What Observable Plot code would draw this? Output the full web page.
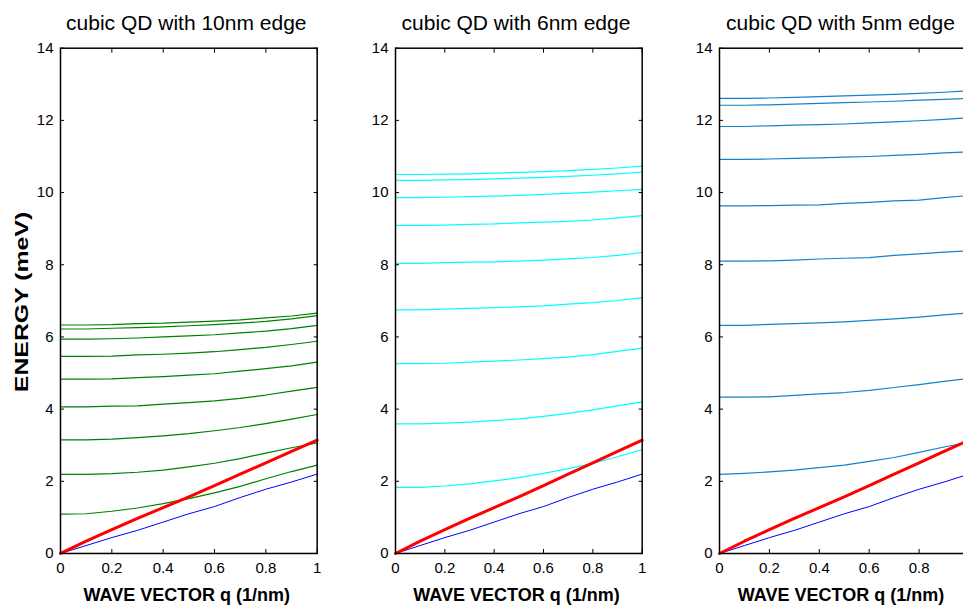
<!DOCTYPE html>
<html><head><meta charset="utf-8">
<script src="https://cdn.jsdelivr.net/npm/d3@7"></script>
<script src="https://cdn.jsdelivr.net/npm/@observablehq/plot@0.6"></script>
<style>
html,body{margin:0;padding:0;overflow:hidden;background:#fff;}
#root{position:relative;width:963px;height:609px;overflow:hidden;font-family:"Liberation Sans",Arial,sans-serif;color:#000;}
.panel{position:absolute;top:0;width:400px;}
.panel svg{max-width:none !important;}
.title{position:absolute;font-size:21px;line-height:21px;white-space:nowrap;transform:translateX(-50%);top:12px;}
.xlabel{position:absolute;font-size:18px;font-weight:bold;line-height:18px;white-space:nowrap;transform:translateX(-50%);top:586px;}
.ylabel{position:absolute;font-size:18px;font-weight:bold;line-height:18px;white-space:nowrap;transform:translate(-50%,-50%) rotate(-90deg) scaleX(1.38);left:21.5px;top:302px;}
</style>
</head><body>
<div id="root"></div>
<script>
// ---- data ----
const q = [0, 0.1, 0.2, 0.3, 0.4, 0.5, 0.6, 0.7, 0.8, 0.9, 1];
const xTicks = [0, 0.2, 0.4, 0.6, 0.8, 1];
const yTicks = [0, 2, 4, 6, 8, 10, 12, 14];
const titles = ["cubic QD with 10nm edge", "cubic QD with 6nm edge", "cubic QD with 5nm edge"];
const xLabel = "WAVE VECTOR q (1/nm)";
const yLabel = "ENERGY (meV)";

// light line (red) and acoustic phonon (blue), same in every panel
const photon = [0, 0.34, 0.66, 0.97, 1.27, 1.57, 1.88, 2.2, 2.51, 2.83, 3.14];
const acoustic = [0, 0.22, 0.44, 0.64, 0.87, 1.1, 1.3, 1.55, 1.78, 1.98, 2.2];

// 10 nm edge (green)
const levels10 = [
  [1.09, 1.1, 1.17, 1.26, 1.38, 1.52, 1.68, 1.86, 2.07, 2.27, 2.45],
  [2.19, 2.19, 2.21, 2.25, 2.31, 2.4, 2.5, 2.63, 2.78, 2.93, 3.06],
  [3.15, 3.15, 3.17, 3.21, 3.26, 3.32, 3.4, 3.49, 3.6, 3.72, 3.85],
  [4.06, 4.06, 4.08, 4.09, 4.14, 4.18, 4.23, 4.3, 4.39, 4.5, 4.6],
  [4.83, 4.83, 4.84, 4.87, 4.9, 4.94, 4.98, 5.05, 5.12, 5.2, 5.3],
  [5.46, 5.46, 5.47, 5.5, 5.52, 5.55, 5.59, 5.65, 5.71, 5.79, 5.88],
  [5.94, 5.94, 5.95, 5.97, 6.0, 6.03, 6.06, 6.11, 6.16, 6.23, 6.32],
  [6.22, 6.22, 6.24, 6.26, 6.28, 6.31, 6.34, 6.38, 6.43, 6.5, 6.59],
  [6.33, 6.33, 6.34, 6.37, 6.38, 6.41, 6.44, 6.47, 6.53, 6.58, 6.66]
];
// 6 nm edge (cyan)
const levels6 = [
  [1.83, 1.83, 1.87, 1.93, 2.01, 2.1, 2.22, 2.35, 2.5, 2.68, 2.88],
  [3.59, 3.59, 3.61, 3.64, 3.68, 3.73, 3.8, 3.88, 3.98, 4.09, 4.2],
  [5.26, 5.26, 5.27, 5.3, 5.33, 5.36, 5.4, 5.44, 5.51, 5.6, 5.69],
  [6.75, 6.75, 6.77, 6.79, 6.81, 6.83, 6.86, 6.91, 6.95, 7.01, 7.09],
  [8.04, 8.04, 8.06, 8.07, 8.08, 8.1, 8.13, 8.16, 8.2, 8.26, 8.34],
  [9.09, 9.09, 9.1, 9.12, 9.13, 9.16, 9.18, 9.2, 9.24, 9.3, 9.36],
  [9.86, 9.86, 9.87, 9.89, 9.9, 9.92, 9.95, 9.98, 10.01, 10.05, 10.09],
  [10.34, 10.34, 10.35, 10.36, 10.38, 10.4, 10.42, 10.45, 10.48, 10.52, 10.57],
  [10.5, 10.5, 10.51, 10.52, 10.54, 10.56, 10.58, 10.61, 10.64, 10.68, 10.73]
];
// 5 nm edge (blue)
const levels5 = [
  [2.19, 2.22, 2.26, 2.31, 2.38, 2.45, 2.55, 2.66, 2.8, 2.95, 3.08],
  [4.33, 4.33, 4.34, 4.38, 4.42, 4.46, 4.52, 4.6, 4.68, 4.77, 4.85],
  [6.32, 6.32, 6.35, 6.37, 6.39, 6.42, 6.46, 6.5, 6.55, 6.61, 6.67],
  [8.1, 8.1, 8.11, 8.13, 8.16, 8.18, 8.2, 8.26, 8.3, 8.35, 8.39],
  [9.63, 9.63, 9.64, 9.65, 9.66, 9.7, 9.73, 9.77, 9.79, 9.86, 9.92],
  [10.92, 10.92, 10.93, 10.95, 10.96, 10.98, 11.0, 11.03, 11.06, 11.1, 11.13],
  [11.83, 11.83, 11.85, 11.87, 11.88, 11.9, 11.93, 11.96, 11.99, 12.03, 12.07],
  [12.42, 12.42, 12.43, 12.45, 12.47, 12.49, 12.51, 12.53, 12.56, 12.58, 12.61],
  [12.61, 12.61, 12.62, 12.64, 12.66, 12.68, 12.7, 12.72, 12.75, 12.78, 12.82]
];
const levelColors = ["#008000", "#00ffff", "#1680c8"];

// ---- layout ----
const frames = [
  {left: 60, width: 256.7, center: 186.3},
  {left: 395, width: 246.7, center: 516},
  {left: 719.3, width: 249.5, center: 840.5}
];
const allLevels = [levels10, levels6, levels5];
const mL = 55, mR = 20, mT = 47.7, mB = 56, H = 609;

const root = document.getElementById("root");
const toRows = (arr, band) => arr.map((E, j) => ({q: q[j], E, band}));

allLevels.forEach((levels, p) => {
  const f = frames[p];
  const rows = levels.flatMap((arr, i) => toRows(arr, i));
  const chart = Plot.plot({
    width: f.width + mL + mR,
    height: H,
    marginLeft: mL, marginRight: mR, marginTop: mT, marginBottom: mB,
    x: {domain: [0, 1]},
    y: {domain: [0, 14]},
    style: {fontFamily: '"Liberation Sans", Arial, sans-serif', fontSize: "15px", color: "#000", background: "transparent", overflow: "visible", maxWidth: "none"},
    marks: [
      Plot.line(rows, {x: "q", y: "E", z: "band", stroke: levelColors[p], strokeWidth: 1.2}),
      Plot.line(toRows(acoustic, 0), {x: "q", y: "E", stroke: "#0000ff", strokeWidth: 1}),
      Plot.line(toRows(photon, 0), {x: "q", y: "E", stroke: "#ff0000", strokeWidth: 3}),
      Plot.frame({stroke: "#000", strokeWidth: 1.5}),
      Plot.axisX({ticks: xTicks, tickSize: -4, tickPadding: 13, tickFormat: d => String(d), label: null, fontSize: 15}),
      Plot.axisX({anchor: "top", ticks: xTicks, tickSize: -4, fill: "none", label: null}),
      Plot.axisY({ticks: yTicks, tickSize: -4, tickPadding: 11, tickFormat: d => String(d), label: null, fontSize: 15}),
      Plot.axisY({anchor: "right", ticks: yTicks, tickSize: -4, fill: "none", label: null})
    ]
  });
  const wrap = document.createElement("div");
  wrap.className = "panel";
  wrap.style.left = (f.left - mL) + "px";
  wrap.appendChild(chart);
  root.appendChild(wrap);

  const t = document.createElement("div");
  t.className = "title"; t.style.left = f.center + "px"; t.textContent = titles[p];
  root.appendChild(t);
  const xl = document.createElement("div");
  xl.className = "xlabel"; xl.style.left = (f.center + 0.5) + "px"; xl.textContent = xLabel;
  root.appendChild(xl);
});
const yl = document.createElement("div");
yl.className = "ylabel"; yl.textContent = yLabel;
root.appendChild(yl);
</script>
</body></html>
